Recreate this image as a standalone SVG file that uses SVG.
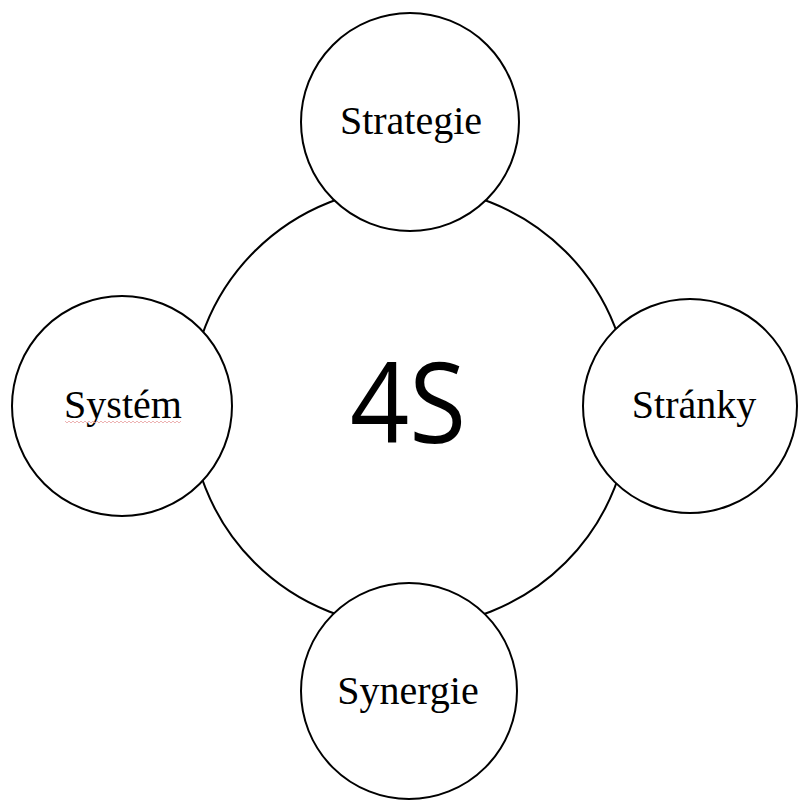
<svg xmlns="http://www.w3.org/2000/svg" width="798" height="801" viewBox="0 0 798 801">
  <style>
    .c { fill: #ffffff; stroke: #000000; stroke-width: 2; }
    .t { font-family: "Liberation Serif", "Times New Roman", serif; font-size: 40px; fill: #000000; text-anchor: middle; }
    .big { font-family: "Open Sans", "Lato", sans-serif; font-size: 112px; fill: #000000; text-anchor: middle; }
  </style>
  <rect width="798" height="801" fill="#ffffff"/>
  <g id="center">
    <circle class="c" cx="410" cy="407" r="220"/>
    <text class="big" x="408" y="443" textLength="116" lengthAdjust="spacingAndGlyphs">4S</text>
  </g>
  <g id="strategie">
    <circle class="c" cx="410" cy="122" r="109"/>
    <text class="t" x="411" y="134">Strategie</text>
  </g>
  <g id="system">
    <circle class="c" cx="122" cy="406" r="110"/>
    <text class="t" x="123" y="418">Systém</text>
    <polyline points="65,421 67,423 69,421 71,423 73,421 75,423 77,421 79,423 81,421 83,423 85,421 87,423 89,421 91,423 93,421 95,423 97,421 99,423 101,421 103,423 105,421 107,423 109,421 111,423 113,421 115,423 117,421 119,423 121,421 123,423 125,421 127,423 129,421 131,423 133,421 135,423 137,421 139,423 141,421 143,423 145,421 147,423 149,421 151,423 153,421 155,423 157,421 159,423 161,421 163,423 165,421 167,423 169,421 171,423 173,421 175,423 177,421 179,423 181,421" fill="none" stroke="#e8a0a0" stroke-width="0.8"/>
  </g>
  <g id="stranky">
    <circle class="c" cx="690" cy="406" r="107"/>
    <text class="t" x="694" y="418">Stránky</text>
  </g>
  <g id="synergie">
    <circle class="c" cx="409" cy="691" r="108"/>
    <text class="t" x="408" y="704">Synergie</text>
  </g>
</svg>
